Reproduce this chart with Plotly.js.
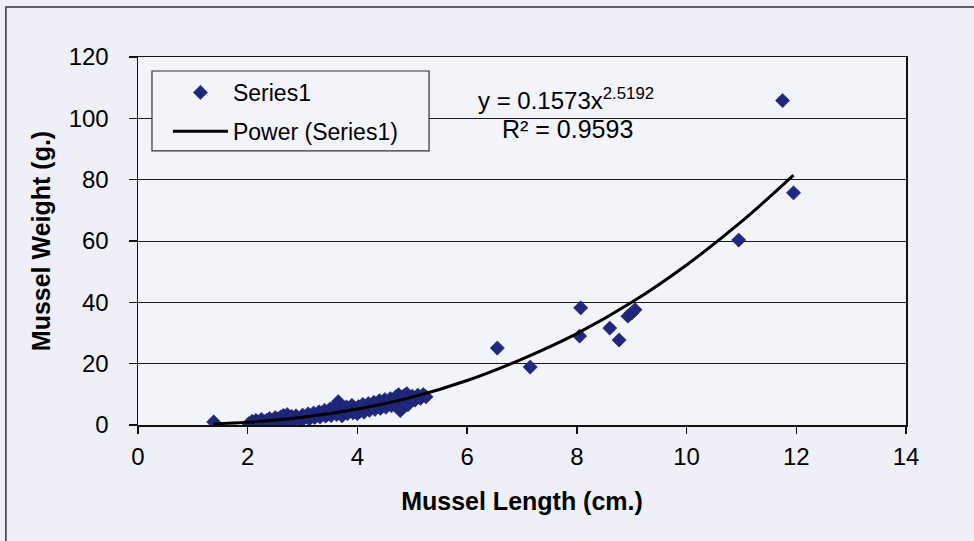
<!DOCTYPE html>
<html>
<head>
<meta charset="utf-8">
<script src="https://cdn.plot.ly/plotly-3.0.1.min.js"></script>
<style>
  html, body { margin: 0; padding: 0; background: #efeff7; }
  #chart { width: 974px; height: 541px; }
</style>
</head>
<body>
<div id="chart"></div>
<script>
// Mussel length (cm.) — observed points
const lengths = [
  1.38, 2.02, 2.08, 2.12, 2.15, 2.2, 2.22, 2.25, 2.3, 2.32, 2.35, 2.4, 2.42, 2.45, 2.5, 2.52,
  2.55, 2.6, 2.62, 2.65, 2.7, 2.72, 2.75, 2.78, 2.8, 2.85, 2.88, 2.9, 2.95, 3.0, 3.02, 3.05,
  3.1, 3.12, 3.15, 3.2, 3.22, 3.25, 3.3, 3.32, 3.35, 3.4, 3.42, 3.45, 3.5, 3.52, 3.55, 3.6,
  3.62, 3.65, 3.68, 3.7, 3.72, 3.75, 3.8, 3.82, 3.85, 3.9, 3.92, 3.95, 4.0, 4.02, 4.05, 4.1,
  4.12, 4.15, 4.2, 4.22, 4.25, 4.3, 4.32, 4.35, 4.4, 4.42, 4.45, 4.5, 4.52, 4.55, 4.6, 4.62,
  4.65, 4.7, 4.72, 4.75, 4.78, 4.8, 4.82, 4.85, 4.88, 4.9, 4.92, 4.95, 5.0, 5.05, 5.1, 5.15,
  5.2, 5.25,
  6.55, 7.15, 8.05, 8.07, 8.6, 8.77, 8.93, 9.0, 9.06, 10.95, 11.75, 11.95
];
// Mussel weight (g.) — observed points
const weights = [
  1.0, 0.4, 1.2, 0.6, 1.5, 0.9, 0.3, 1.8, 1.1, 0.5, 1.6, 2.1, 0.8, 1.3, 2.4, 1.0,
  1.9, 2.6, 1.2, 3.1, 1.7, 3.4, 2.2, 1.4, 2.8, 1.9, 3.0, 2.4, 1.6, 3.2, 2.1, 2.7,
  3.6, 1.9, 2.9, 3.9, 2.4, 3.3, 4.3, 2.6, 3.7, 4.8, 2.9, 3.5, 5.2, 3.1, 4.1, 6.2,
  3.4, 7.6, 4.6, 5.6, 3.0, 4.4, 5.9, 3.7, 5.0, 6.4, 4.0, 5.4, 3.7, 6.0, 4.6, 6.7,
  4.2, 5.5, 7.0, 4.8, 6.2, 7.4, 5.1, 6.6, 7.9, 5.4, 6.9, 8.3, 5.8, 7.2, 8.6, 6.3,
  7.6, 9.2, 6.0, 9.9, 4.7, 8.4, 5.6, 9.6, 7.3, 10.2, 6.6, 8.9, 9.4, 8.1, 9.7, 8.7,
  9.9, 9.2,
  25.1, 18.9, 29.0, 38.2, 31.6, 27.7, 35.5, 36.5, 37.6, 60.3, 105.8, 75.7
];

// Power trendline
const trendX = [1.38, 2, 3, 4, 5, 6, 7, 8, 9, 10, 11, 11.95];
const trendY = [0.4, 0.9, 2.5, 5.2, 9.1, 14.5, 21.5, 29.8, 40.0, 52.2, 66.3, 81.5];

const xTicks = [0, 2, 4, 6, 8, 10, 12, 14];
const yTicks = [0, 20, 40, 60, 80, 100, 120];

const equationText = 'y = 0.1573x<sup>2.5192</sup>';
const r2Text = 'R² = 0.9593';

const FONT = 'Liberation Sans, Arial, sans-serif';

const traces = [
  {
    x: lengths, y: weights, type: 'scatter', mode: 'markers', name: 'Series1',
    legendgroup: 'a',
    marker: { symbol: 'diamond', size: 11, color: '#1f287c', line: { color: '#161d5e', width: 0.5 } }
  },
  {
    x: trendX, y: trendY, type: 'scatter', mode: 'lines', name: 'Power (Series1)',
    legendgroup: 'b',
    line: { color: '#000000', width: 3, shape: 'spline', smoothing: 1 }
  }
];

const layout = {
  width: 974, height: 541,
  margin: { l: 138, r: 68, t: 57, b: 116 },
  paper_bgcolor: '#efeff7',
  plot_bgcolor: '#f3f3fa',
  font: { family: FONT, size: 24, color: '#000' },
  showlegend: true,
  legend: {
    x: 0.039, y: 0.962, xanchor: 'left', yanchor: 'top',
    bgcolor: 'rgba(0,0,0,0)', borderwidth: 0,
    font: { family: FONT, size: 23, color: '#000' },
    itemwidth: 55, tracegroupgap: 6, traceorder: 'grouped'
  },
  xaxis: {
    range: [0, 14], tickvals: xTicks, ticktext: xTicks.map(String),
    showgrid: false, zeroline: false,
    showline: true, linecolor: '#111', linewidth: 1.5, mirror: true,
    ticks: 'outside', ticklen: 7, tickcolor: '#111', tickwidth: 1.5,
    ticklabelstandoff: 3,
    tickfont: { family: FONT, size: 24, color: '#000' },
    title: { text: 'Mussel Length (cm.)', font: { family: FONT, size: 25, weight: 'bold', color: '#000' }, standoff: 23 }
  },
  yaxis: {
    range: [0, 120], tickvals: yTicks, ticktext: yTicks.map(String),
    showgrid: true, gridcolor: '#1a1a1a', gridwidth: 1, zeroline: false,
    showline: true, linecolor: '#111', linewidth: 1.5, mirror: true,
    ticks: 'outside', ticklen: 8, tickcolor: '#111', tickwidth: 1.5,
    ticklabelstandoff: 15,
    tickfont: { family: FONT, size: 24, color: '#000' },
    title: { text: 'Mussel Weight (g.)', font: { family: FONT, size: 25, weight: 'bold', color: '#000' }, standoff: 11 }
  },
  annotations: [
    { xref: 'paper', yref: 'paper', x: 0.557, y: 0.886, text: equationText, showarrow: false,
      xanchor: 'center', yanchor: 'middle', font: { family: FONT, size: 24, color: '#000' } },
    { xref: 'paper', yref: 'paper', x: 0.559, y: 0.803, text: r2Text, showarrow: false,
      xanchor: 'center', yanchor: 'middle', font: { family: FONT, size: 25, color: '#000' } }
  ],
  shapes: [
    // outer chart frame
    { type: 'rect', xref: 'paper', yref: 'paper', x0: -0.172, x1: 1.3, y0: -0.6, y1: 1.136,
      line: { color: '#333', width: 1.5 }, fillcolor: 'rgba(0,0,0,0)', layer: 'below' },
    // legend box
    { type: 'rect', xref: 'paper', yref: 'paper', x0: 0.0182, x1: 0.379, y0: 0.745, y1: 0.962,
      line: { color: '#333', width: 1.2 }, fillcolor: '#f3f3fa', layer: 'above' }
  ]
};

Plotly.newPlot('chart', traces, layout, { displayModeBar: false, staticPlot: true });
</script>
</body>
</html>
